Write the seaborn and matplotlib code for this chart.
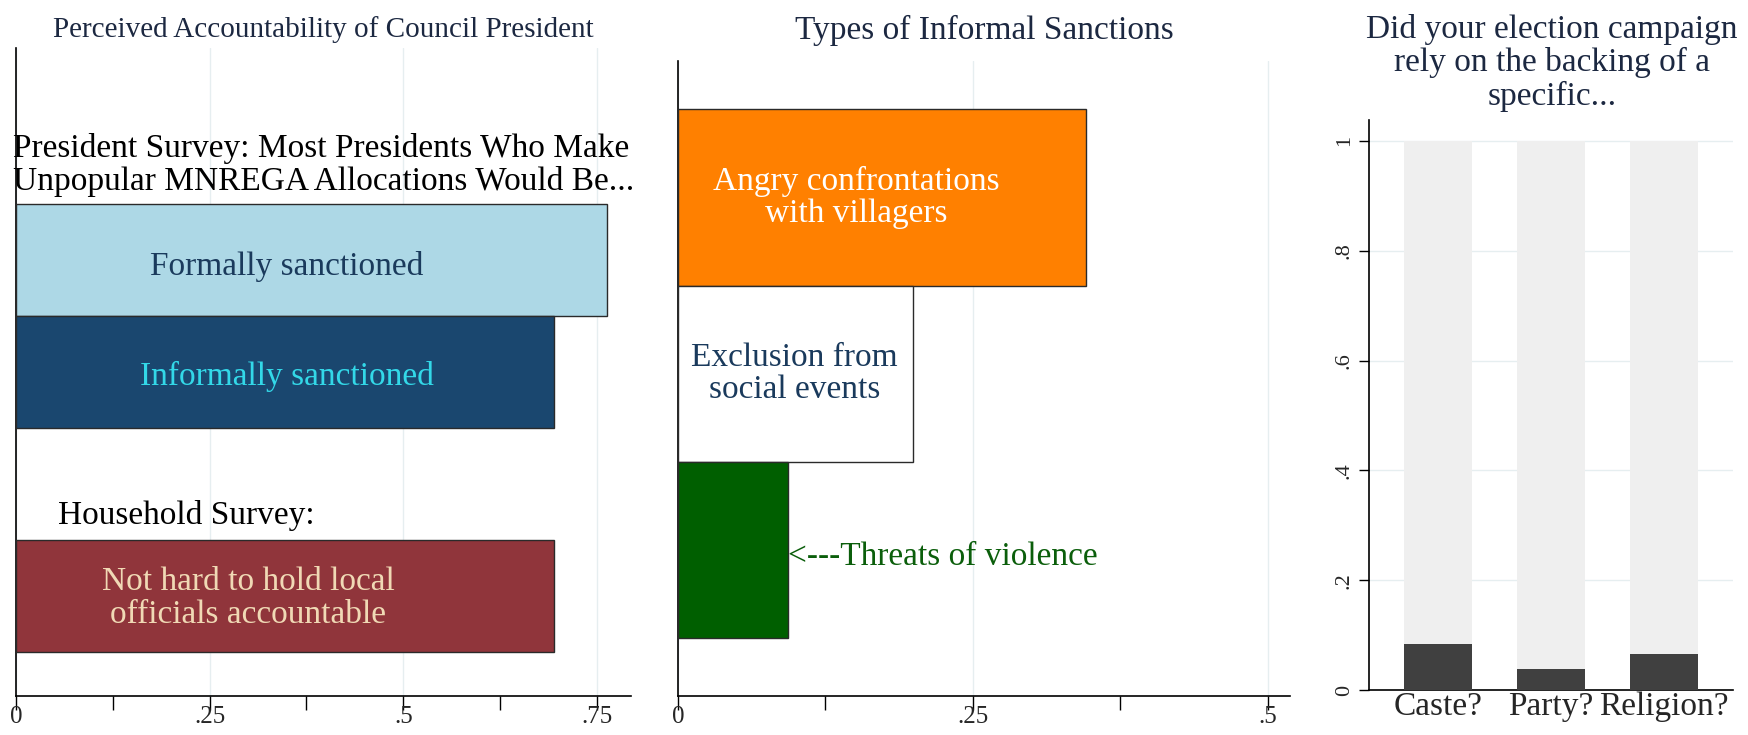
import matplotlib
matplotlib.use("Agg")
import matplotlib.pyplot as plt
import seaborn as sns
import pandas as pd
import numpy as np

sns.set_theme(style="white")
plt.rcParams['font.family'] = ['Liberation Serif', 'DejaVu Serif']

# ---------------- data ----------------
p1_labels = ["Formally sanctioned", "Informally sanctioned", "Not hard to hold local\nofficials accountable"]
p1_values = [0.763, 0.695, 0.695]
p1_colors = ["#ADD8E6", "#1a476f", "#90353b"]
p1_text_colors = ["#1a3a5c", "#33d8e8", "#f0d9b5"]
p1_order = ["Formally sanctioned", "Informally sanctioned", "gap", "Not hard to hold local\nofficials accountable"]

p2_labels = ["Angry confrontations\nwith villagers", "Exclusion from\nsocial events", "Threats of violence"]
p2_values = [0.346, 0.199, 0.093]
p2_colors = ["#ff8000", "#ffffff", "#005f00"]
p2_text_colors = ["#ffffff", "#1a3a5c", "#0b5e0b"]

p3_labels = ["Caste?", "Party?", "Religion?"]
p3_values = [0.083, 0.039, 0.065]
p3_total = [1.0, 1.0, 1.0]

W, H = 1749, 735
fig = plt.figure(figsize=(W / 100, H / 100), dpi=100)
fig.patch.set_facecolor("white")

def px_axes(x0, y_top, x1, y_bot):
    return fig.add_axes([x0 / W, 1 - y_bot / H, (x1 - x0) / W, (y_bot - y_top) / H])

grid_c = "#e6eef0"
title_c = "#1c2841"
LS = 1.08

# ---------------- panel 1 ----------------
ax1 = px_axes(16, 48, 631, 696)
df1 = pd.DataFrame({"label": p1_labels, "value": p1_values})
sns.barplot(data=df1, x="value", y="label", order=p1_order, hue="label",
            palette=dict(zip(p1_labels, p1_colors)), width=1.0, orient="h", saturation=1,
            edgecolor="#2a2a2a", linewidth=1.0, legend=False, ax=ax1, zorder=3)
ax1.set_xlim(0, 0.794)
ax1.set_ylim(3.893, -1.893)
ax1.set_xticks([0, 0.25, 0.5, 0.75])
ax1.set_xticklabels(["0", ".25", ".5", ".75"])
ax1.set_xticks([0.125, 0.375, 0.625], minor=True)
ax1.set_yticks([])
ax1.set_xlabel(""); ax1.set_ylabel("")
ax1.grid(axis="x", which="major", color=grid_c, lw=1, zorder=0)
ax1.text(0.35, 0.06, p1_labels[0], color=p1_text_colors[0], fontsize=24, ha="center", va="center", zorder=5)
ax1.text(0.35, 1.04, p1_labels[1], color=p1_text_colors[1], fontsize=24, ha="center", va="center", zorder=5)
ax1.text(0.30, 3.02, p1_labels[2], color=p1_text_colors[2], fontsize=24, ha="center", va="center",
         linespacing=LS, zorder=5)
ax1.text(-0.004, -0.85, "President Survey: Most Presidents Who Make\nUnpopular MNREGA Allocations Would Be...",
         color="black", fontsize=24, ha="left", va="center", linespacing=LS, clip_on=False, zorder=5)
ax1.text(0.054, 2.28, "Household Survey:", color="black", fontsize=24, ha="left", va="center", zorder=5)

# ---------------- panel 2 ----------------
ax2 = px_axes(678, 61, 1290, 696)
df2 = pd.DataFrame({"label": p2_labels, "value": p2_values})
sns.barplot(data=df2, x="value", y="label", order=p2_labels, hue="label",
            palette=dict(zip(p2_labels, p2_colors)), width=1.0, orient="h", saturation=1,
            edgecolor="#2a2a2a", linewidth=1.0, legend=False, ax=ax2, zorder=3)
ax2.set_xlim(0, 0.519)
ax2.set_ylim(2.827, -0.773)
ax2.set_xticks([0, 0.25, 0.5])
ax2.set_xticklabels(["0", ".25", ".5"])
ax2.set_xticks([0.125, 0.375], minor=True)
ax2.set_yticks([])
ax2.set_xlabel(""); ax2.set_ylabel("")
ax2.grid(axis="x", which="major", color=grid_c, lw=1, zorder=0)
ax2.text(0.151, 0.0, p2_labels[0], color=p2_text_colors[0], fontsize=24, ha="center", va="center",
         linespacing=LS, zorder=5)
ax2.text(0.099, 1.0, p2_labels[1], color=p2_text_colors[1], fontsize=24, ha="center", va="center",
         linespacing=LS, zorder=5)
ax2.text(p2_values[2], 2.035, "<---" + p2_labels[2], color=p2_text_colors[2], fontsize=24,
         ha="left", va="center", zorder=5)

for ax in (ax1, ax2):
    for s in ("top", "right"):
        ax.spines[s].set_visible(False)
    for s in ("left", "bottom"):
        ax.spines[s].set_color("black"); ax.spines[s].set_linewidth(1.2)
    ax.tick_params(axis="x", which="both", direction="out", length=10, width=1, color="black",
                   labelsize=18, pad=-3, bottom=True)

# ---------------- panel 3 ----------------
ax3 = px_axes(1369, 120, 1733, 690)
df3 = pd.DataFrame({"label": p3_labels, "value": p3_values, "total": p3_total})
sns.barplot(data=df3, x="label", y="total", color="#efefef", width=0.605, ax=ax3,
            linewidth=0, zorder=2, saturation=1)
sns.barplot(data=df3, x="label", y="value", color="#404040", width=0.605, ax=ax3,
            linewidth=0, zorder=3, saturation=1)
ax3.set_xlim(-0.612, 2.61)
ax3.set_ylim(0, 1.038)
ax3.set_yticks([0, 0.2, 0.4, 0.6, 0.8, 1.0])
ax3.set_yticklabels(["0", ".2", ".4", ".6", ".8", "1"], rotation=90, va="center")
ax3.set_xlabel(""); ax3.set_ylabel("")
ax3.grid(axis="y", color=grid_c, lw=1, zorder=0)
for s in ("top", "right"):
    ax3.spines[s].set_visible(False)
for s in ("left", "bottom"):
    ax3.spines[s].set_color("black"); ax3.spines[s].set_linewidth(1.2)
ax3.tick_params(axis="y", direction="out", length=7, width=1, color="black", labelsize=16, pad=4, left=True)
ax3.tick_params(axis="x", length=0, labelsize=24, pad=1)

# ---------------- titles ----------------
fig.text(323 / W, 1 - 30 / H, "Perceived Accountability of Council President", fontsize=21,
         color=title_c, ha="center", va="center")
fig.text(984 / W, 1 - 30 / H, "Types of Informal Sanctions", fontsize=24,
         color=title_c, ha="center", va="center")
fig.text(1552 / W, 1 - 63 / H, "Did your election campaign\nrely on the backing of a\nspecific...",
         fontsize=24, color=title_c, ha="center", va="center", linespacing=1.1)

fig.savefig("out.png", dpi=100, facecolor="white")
